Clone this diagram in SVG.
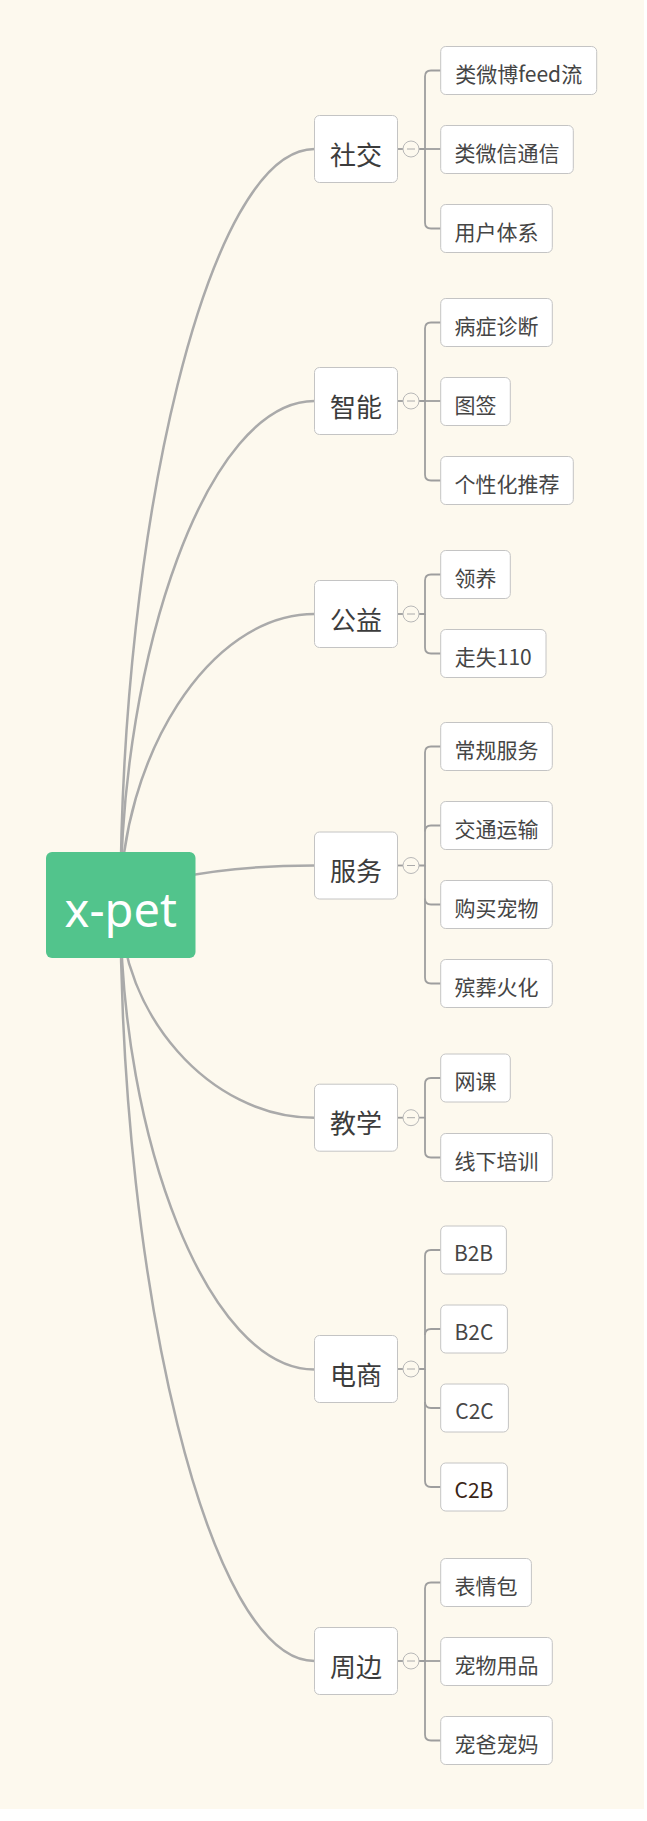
<svg xmlns="http://www.w3.org/2000/svg" width="647" height="1821" viewBox="0 0 647 1821">
<style>
.bg{fill:#fdf9ee}
.main rect{fill:#ffffff;stroke:#c4c4c4;stroke-width:1}
.main text{font-family:"Noto Sans CJK SC","Noto Sans",sans-serif;font-size:26px;fill:#3c3c3c;text-anchor:middle}
.child rect{fill:#ffffff;stroke:#c4c4c4;stroke-width:1}
.child text{font-family:"Noto Sans CJK SC","Noto Sans",sans-serif;font-size:21px;fill:#454545;text-anchor:middle}
.curve{fill:none;stroke:#aaaaaa;stroke-width:2.5}
.br{fill:none;stroke:#9e9e9e;stroke-width:1.8}
.tog circle{fill:#fdf9ee;stroke:#b8b8b8;stroke-width:1}
.tog line{stroke:#aaaaaa;stroke-width:1}
</style>
<rect x="0" y="0" width="647" height="1821" fill="#ffffff"/>
<rect class="bg" x="0" y="0" width="644" height="1809"/>

<g id="connectors">
  <!-- root to main topics -->
  <path class="curve" d="M120.5,905 C120.5,527 207.8,149 314.5,149"/>
  <path class="curve" d="M120.5,905 C120.5,653 207.8,401 314.5,401"/>
  <path class="curve" d="M120.5,905 C120.5,759.5 207.8,614 314.5,614"/>
  <path class="curve" d="M120.5,905 C120.5,885 207.8,865.5 314.5,865.5"/>
  <path class="curve" d="M120.5,905 C120.5,1011.4 207.8,1117.7 314.5,1117.7"/>
  <path class="curve" d="M120.5,905 C120.5,1137.3 207.8,1369.5 314.5,1369.5"/>
  <path class="curve" d="M120.5,905 C120.5,1283 207.8,1661 314.5,1661"/>

  <!-- 社交 -->
  <path class="br" d="M397.5,149 H403"/>
  <path class="br" d="M419,149 H425 V76.5 Q425,70.5 431,70.5 H440.7"/>
  <path class="br" d="M419,149 H440.7"/>
  <path class="br" d="M425,149 V222.5 Q425,228.5 431,228.5 H440.7"/>
  <!-- 智能 -->
  <path class="br" d="M397.5,401 H403"/>
  <path class="br" d="M419,401 H425 V328.5 Q425,322.5 431,322.5 H440.7"/>
  <path class="br" d="M419,401 H440.7"/>
  <path class="br" d="M425,401 V474.5 Q425,480.5 431,480.5 H440.7"/>
  <!-- 公益 -->
  <path class="br" d="M397.5,614 H403"/>
  <path class="br" d="M419,614 H425 V580.5 Q425,574.5 431,574.5 H440.7"/>
  <path class="br" d="M425,614 V647.5 Q425,653.5 431,653.5 H440.7"/>
  <!-- 服务 -->
  <path class="br" d="M397.5,865.5 H403"/>
  <path class="br" d="M419,865.5 H425 V752.5 Q425,746.5 431,746.5 H440.7"/>
  <path class="br" d="M425,831.5 Q425,825.5 431,825.5 H440.7"/>
  <path class="br" d="M425,898.5 Q425,904.5 431,904.5 H440.7"/>
  <path class="br" d="M425,865.5 V977.5 Q425,983.5 431,983.5 H440.7"/>
  <!-- 教学 -->
  <path class="br" d="M397.5,1117.7 H403"/>
  <path class="br" d="M419,1117.7 H425 V1084 Q425,1078 431,1078 H440.7"/>
  <path class="br" d="M425,1117.7 V1151.5 Q425,1157.5 431,1157.5 H440.7"/>
  <!-- 电商 -->
  <path class="br" d="M397.5,1369 H403"/>
  <path class="br" d="M419,1369 H425 V1256 Q425,1250 431,1250 H440.7"/>
  <path class="br" d="M425,1335 Q425,1329 431,1329 H440.7"/>
  <path class="br" d="M425,1402 Q425,1408 431,1408 H440.7"/>
  <path class="br" d="M425,1369 V1481 Q425,1487 431,1487 H440.7"/>
  <!-- 周边 -->
  <path class="br" d="M397.5,1661 H403"/>
  <path class="br" d="M419,1661 H425 V1588.5 Q425,1582.5 431,1582.5 H440.7"/>
  <path class="br" d="M419,1661 H440.7"/>
  <path class="br" d="M425,1661 V1734.5 Q425,1740.5 431,1740.5 H440.7"/>

  <!-- collapse toggles -->
  <g class="tog"><circle cx="411" cy="149" r="8"/><line x1="407" y1="149" x2="415" y2="149"/></g>
  <g class="tog"><circle cx="411" cy="401" r="8"/><line x1="407" y1="401" x2="415" y2="401"/></g>
  <g class="tog"><circle cx="411" cy="614" r="8"/><line x1="407" y1="614" x2="415" y2="614"/></g>
  <g class="tog"><circle cx="411" cy="865.5" r="8"/><line x1="407" y1="865.5" x2="415" y2="865.5"/></g>
  <g class="tog"><circle cx="411" cy="1117.7" r="8"/><line x1="407" y1="1117.7" x2="415" y2="1117.7"/></g>
  <g class="tog"><circle cx="411" cy="1369" r="8"/><line x1="407" y1="1369" x2="415" y2="1369"/></g>
  <g class="tog"><circle cx="411" cy="1661" r="8"/><line x1="407" y1="1661" x2="415" y2="1661"/></g>
</g>

<g id="root">
  <rect x="46" y="852" width="149.5" height="106" rx="6" fill="#52c48c"/>
  <text x="120.8" y="927.3" font-family="'Noto Sans','Open Sans',sans-serif" font-size="47" fill="#ffffff" text-anchor="middle">x-pet</text>
</g>

<g id="n-shejiao" class="main"><rect x="314.5" y="115.5" width="83" height="67" rx="5"/><text x="356" y="164.5">社交</text></g>
<g id="n-zhineng" class="main"><rect x="314.5" y="367.5" width="83" height="67" rx="5"/><text x="356" y="416.5">智能</text></g>
<g id="n-gongyi" class="main"><rect x="314.5" y="580.5" width="83" height="67" rx="5"/><text x="356" y="629.5">公益</text></g>
<g id="n-fuwu" class="main"><rect x="314.5" y="832" width="83" height="67" rx="5"/><text x="356" y="881">服务</text></g>
<g id="n-jiaoxue" class="main"><rect x="314.5" y="1084.2" width="83" height="67" rx="5"/><text x="356" y="1133.2">教学</text></g>
<g id="n-dianshang" class="main"><rect x="314.5" y="1335.5" width="83" height="67" rx="5"/><text x="356" y="1384.5">电商</text></g>
<g id="n-zhoubian" class="main"><rect x="314.5" y="1627.5" width="83" height="67" rx="5"/><text x="356" y="1676.5">周边</text></g>

<g id="c-feed" class="child"><rect x="440.7" y="46.5" width="156" height="48" rx="5"/><text x="518.7" y="81.5">类微博feed流</text></g>
<g id="c-weixin" class="child"><rect x="440.7" y="125.5" width="132.6" height="48" rx="5"/><text x="507" y="160.5">类微信通信</text></g>
<g id="c-yonghu" class="child"><rect x="440.7" y="204.5" width="111.6" height="48" rx="5"/><text x="496.5" y="239.5">用户体系</text></g>

<g id="c-bingzheng" class="child"><rect x="440.7" y="298.5" width="111.6" height="48" rx="5"/><text x="496.5" y="333.5">病症诊断</text></g>
<g id="c-tuqian" class="child"><rect x="440.7" y="377.5" width="69.6" height="48" rx="5"/><text x="475.5" y="412.5">图签</text></g>
<g id="c-gexing" class="child"><rect x="440.7" y="456.5" width="132.6" height="48" rx="5"/><text x="507" y="491.5">个性化推荐</text></g>

<g id="c-lingyang" class="child"><rect x="440.7" y="550.5" width="69.6" height="48" rx="5"/><text x="475.5" y="585.5">领养</text></g>
<g id="c-zoushi" class="child"><rect x="440.7" y="629.5" width="105.3" height="48" rx="5"/><text x="493.3" y="664.5">走失110</text></g>

<g id="c-changgui" class="child"><rect x="440.7" y="722.5" width="111.6" height="48" rx="5"/><text x="496.5" y="757.5">常规服务</text></g>
<g id="c-jiaotong" class="child"><rect x="440.7" y="801.5" width="111.6" height="48" rx="5"/><text x="496.5" y="836.5">交通运输</text></g>
<g id="c-goumai" class="child"><rect x="440.7" y="880.5" width="111.6" height="48" rx="5"/><text x="496.5" y="915.5">购买宠物</text></g>
<g id="c-binzang" class="child"><rect x="440.7" y="959.5" width="111.6" height="48" rx="5"/><text x="496.5" y="994.5">殡葬火化</text></g>

<g id="c-wangke" class="child"><rect x="440.7" y="1054" width="69.6" height="48" rx="5"/><text x="475.5" y="1089">网课</text></g>
<g id="c-xianxia" class="child"><rect x="440.7" y="1133.5" width="111.6" height="48" rx="5"/><text x="496.5" y="1168.5">线下培训</text></g>

<g id="c-b2b" class="child"><rect x="440.7" y="1226" width="65.7" height="48" rx="5"/><text x="473.5" y="1261">B2B</text></g>
<g id="c-b2c" class="child"><rect x="440.7" y="1305" width="66.7" height="48" rx="5"/><text x="474" y="1340">B2C</text></g>
<g id="c-c2c" class="child"><rect x="440.7" y="1384" width="67.7" height="48" rx="5"/><text x="474.5" y="1419">C2C</text></g>
<g id="c-c2b" class="child"><rect x="440.7" y="1463" width="66.7" height="48" rx="5"/><text x="474" y="1498" style="fill:#3a2416">C2B</text></g>

<g id="c-biaoqing" class="child"><rect x="440.7" y="1558.5" width="90.7" height="48" rx="5"/><text x="486" y="1593.5">表情包</text></g>
<g id="c-yongpin" class="child"><rect x="440.7" y="1637.5" width="111.6" height="48" rx="5"/><text x="496.5" y="1672.5">宠物用品</text></g>
<g id="c-bama" class="child"><rect x="440.7" y="1716.5" width="111.6" height="48" rx="5"/><text x="496.5" y="1751.5">宠爸宠妈</text></g>
</svg>
